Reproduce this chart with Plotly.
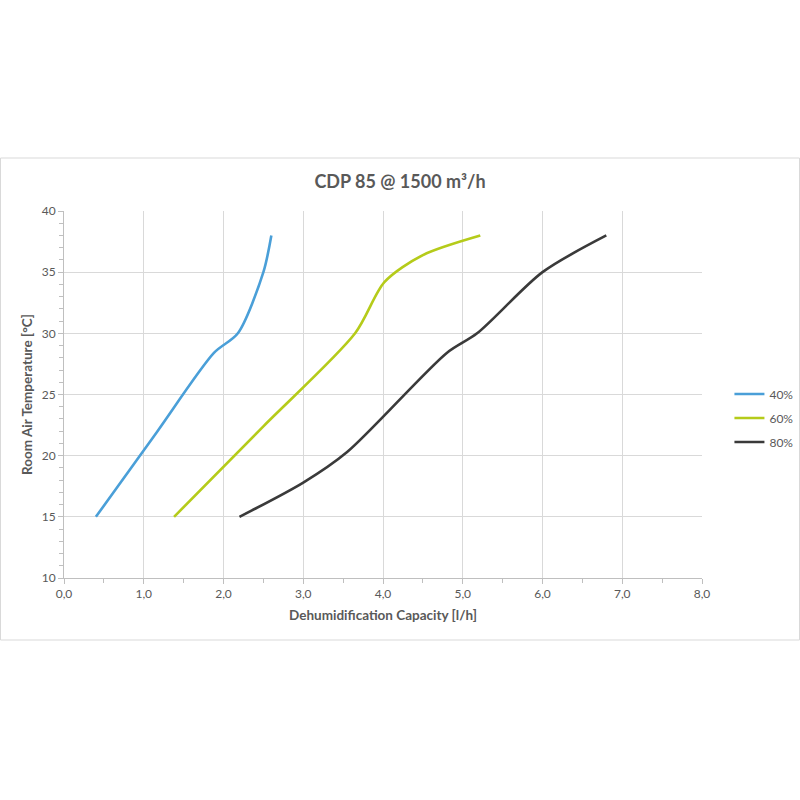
import plotly.graph_objects as go

series_names = ["40%", "60%", "80%"]
x40 = [0.4, 1.15, 1.88, 2.18, 2.5, 2.6]
y40 = [15, 21.8, 28.4, 30, 35, 38]
x60 = [1.38, 2.5, 3.65, 4.02, 4.5, 5.22]
y60 = [15, 22.4, 30, 34.2, 36.4, 38]
x80 = [2.2, 3.0, 3.55, 4.8, 5.18, 6.0, 6.8]
y80 = [15, 17.8, 20.3, 28.4, 30, 35, 38]
colors = ["#4a9fd8", "#b5cb1a", "#3a3a3a"]

title_text = "CDP 85 @ 1500 m³/h"
x_title = "Dehumidification Capacity [l/h]"
y_title = "Room Air Temperature [°C]"

FONT = "Lato, 'Open Sans', sans-serif"
GREY = "#595959"

fig = go.Figure()
for name, xs, ys, c in zip(series_names, [x40, x60, x80], [y40, y60, y80], colors):
    fig.add_trace(go.Scatter(x=xs, y=ys, mode="lines", name=name, legendgroup=name,
                             line=dict(color=c, width=2.6, shape="spline", smoothing=0.8)))

fig.update_layout(
    width=800, height=800,
    paper_bgcolor="white", plot_bgcolor="white",
    margin=dict(l=64, r=98, t=211, b=222, autoexpand=False),
    separators=",.",
    font=dict(family=FONT, color=GREY, size=12),
    title=dict(text="<b>" + title_text + "</b>", x=0.5, xanchor="center", xref="container",
               y=1 - 182 / 800, yanchor="middle", yref="container",
               font=dict(size=18, color=GREY, family=FONT)),
    legend=dict(x=1.043, xanchor="left", y=(578 - 418) / 367, yanchor="middle",
                font=dict(size=12, color=GREY), tracegroupgap=5,
                bgcolor="rgba(0,0,0,0)"),
    showlegend=True,
)
fig.update_xaxes(range=[0, 8], dtick=1, tickformat=".1f", showgrid=True, gridcolor="#d9d9d9",
                 gridwidth=1, showline=True, linecolor="#bfbfbf", linewidth=1,
                 ticks="outside", ticklen=5, tickcolor="#bfbfbf",
                 minor=dict(dtick=0.5, ticks="outside", ticklen=4, tickcolor="#bfbfbf", showgrid=False),
                 tickfont=dict(size=12, color=GREY), zeroline=False,
                 title=dict(text="<b>" + x_title + "</b>", font=dict(size=13.5, color=GREY), standoff=10))
fig.update_yaxes(range=[10, 40], dtick=5, showgrid=True, gridcolor="#d9d9d9", gridwidth=1,
                 showline=True, linecolor="#bfbfbf", linewidth=1,
                 ticks="outside", ticklen=5, tickcolor="#bfbfbf",
                 minor=dict(dtick=1, ticks="outside", ticklen=4, tickcolor="#bfbfbf", showgrid=False),
                 tickfont=dict(size=12, color=GREY), zeroline=False,
                 title=dict(text="<b>" + y_title + "</b>", font=dict(size=13.5, color=GREY), standoff=5))
fig.add_shape(type="rect", xref="paper", yref="paper",
              x0=(0.5 - 64) / 638, x1=(799.5 - 64) / 638,
              y0=(578 - 640) / 367, y1=(578 - 158) / 367,
              line=dict(color="#d9d9d9", width=1), fillcolor="rgba(0,0,0,0)", layer="below")
fig.write_html("out.html")
